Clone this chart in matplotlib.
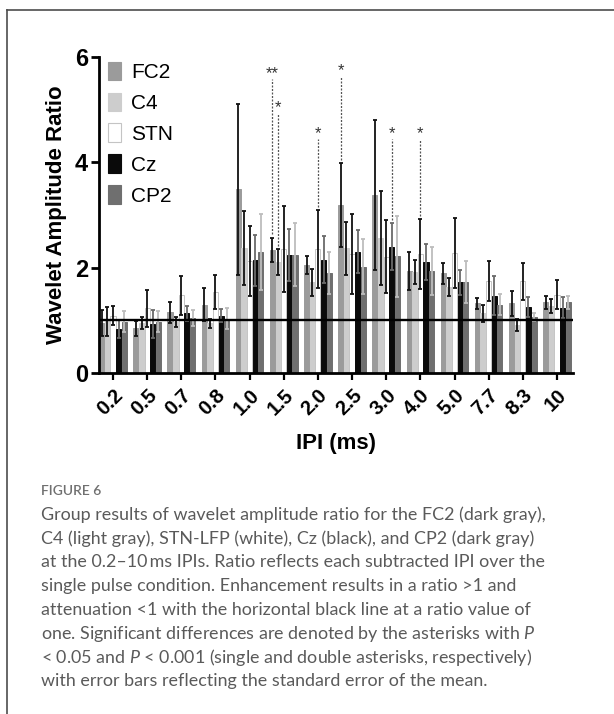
import numpy as np
import matplotlib
matplotlib.use("Agg")
import matplotlib.pyplot as plt
from matplotlib.patches import Patch
from matplotlib.lines import Line2D

plt.rcParams['font.family'] = ['Liberation Sans', 'DejaVu Sans']
plt.rcParams['mathtext.fontset'] = 'custom'
plt.rcParams['mathtext.rm'] = 'Lato'
plt.rcParams['mathtext.it'] = 'Lato:italic'

# IPI conditions (ms)
ipi_labels = ['0.2', '0.5', '0.7', '0.8', '1.0', '1.5', '2.0', '2.5',
              '3.0', '4.0', '5.0', '7.7', '8.3', '10']

series_names = ['FC2', 'C4', 'STN', 'Cz', 'CP2']

# mean wavelet amplitude ratio and SEM per channel
fc2_mean = [0.95, 0.85, 1.15, 1.30, 3.49, 2.34, 2.05, 3.19, 3.38, 1.94, 1.89, 1.32, 1.32, 1.34]
fc2_sem = [0.24, 0.14, 0.20, 0.31, 1.62, 0.23, 0.17, 0.80, 1.42, 0.36, 0.20, 0.11, 0.23, 0.12]
c4_mean = [0.98, 0.95, 0.97, 0.94, 2.38, 2.11, 1.72, 2.37, 2.57, 1.92, 1.64, 1.13, 0.91, 1.27]
c4_sem = [0.28, 0.12, 0.10, 0.09, 0.70, 0.25, 0.25, 0.50, 0.89, 0.23, 0.17, 0.16, 0.12, 0.13]
stn_mean = [1.09, 1.23, 1.48, 1.54, 2.13, 2.35, 2.36, 2.26, 2.21, 2.26, 2.28, 1.75, 1.74, 1.49]
stn_sem = [0.18, 0.35, 0.37, 0.33, 0.67, 0.82, 0.74, 0.76, 0.69, 0.66, 0.67, 0.38, 0.35, 0.27]
cz_mean = [0.83, 0.93, 1.13, 1.09, 2.14, 2.24, 2.15, 2.30, 2.40, 2.11, 1.72, 1.47, 1.26, 1.24]
cz_sem = [0.17, 0.27, 0.15, 0.13, 0.48, 0.50, 0.45, 0.41, 0.45, 0.34, 0.24, 0.37, 0.19, 0.20]
cp2_mean = [0.97, 0.97, 1.04, 1.03, 2.30, 2.25, 1.90, 2.02, 2.22, 1.94, 1.72, 1.30, 1.06, 1.34]
cp2_sem = [0.20, 0.20, 0.15, 0.20, 0.72, 0.60, 0.40, 0.52, 0.77, 0.46, 0.40, 0.20, 0.08, 0.13]

means = [fc2_mean, c4_mean, stn_mean, cz_mean, cp2_mean]
sems = [fc2_sem, c4_sem, stn_sem, cz_sem, cp2_sem]

# significance marks: IPI, channel, mark, height of the mark
sig_ipi = ['1.5', '1.5', '2.0', '2.5', '3.0', '4.0']
sig_series = ['FC2', 'C4', 'STN', 'FC2', 'Cz', 'STN']
sig_marks = ['**', '*', '*', '*', '*', '*']
sig_height = [5.70, 5.05, 4.56, 5.74, 4.56, 4.56]

face_colors = ['#9b9b9b', '#cdcdcd', '#ffffff', '#0a0a0a', '#6f6f6f']
edge_colors = ['#9b9b9b', '#cdcdcd', '#c4c4c4', '#0a0a0a', '#6f6f6f']
err_colors = ['#111111', '#111111', '#111111', '#6a6a6a', '#bdbdbd']

step = 0.165
width = 0.15

fig = plt.figure(figsize=(6.14, 7.14), dpi=100)
ax = fig.add_axes([99/614, 1-373/714, 474/614, 316/714])

x = np.arange(len(ipi_labels))
for k, name in enumerate(series_names):
    xs = x + (k-2)*step
    ax.bar(xs, means[k], width=width, color=face_colors[k],
           edgecolor=edge_colors[k], linewidth=0.7, zorder=2, label=name)
    ax.errorbar(xs, means[k], yerr=sems[k], fmt='none', ecolor=err_colors[k],
                elinewidth=1.3, capsize=1.6, capthick=1.3, zorder=3)

ax.axhline(1, color='black', lw=1.7, zorder=4)

# significance lines and asterisks
for ipi, ser, mark, h in zip(sig_ipi, sig_series, sig_marks, sig_height):
    i = ipi_labels.index(ipi)
    k = series_names.index(ser)
    xb = i + (k-2)*step
    top = means[k][i] + sems[k][i]
    ax.plot([xb, xb], [top+0.06, h-0.12], ls=(0, (1.6, 1.2)), color='#555555',
            lw=0.9, zorder=3)
    ax.text(xb, h-0.15, mark, ha='center', va='bottom', fontsize=12, color='#333333')

ax.set_xlim(-0.41, 13.47)
ax.set_ylim(0, 6)
ax.set_yticks([0, 2, 4, 6])
ax.set_xticks(x)
ax.set_xticklabels(ipi_labels, rotation=45, ha='right', rotation_mode='anchor',
                   fontsize=14.5, fontweight='bold')
for lab in ax.get_yticklabels():
    lab.set_fontsize(17)
    lab.set_fontweight('bold')
ax.tick_params(axis='y', length=6, width=2, pad=2)
ax.tick_params(axis='x', length=5, width=1.6, pad=4)
for s in ['top', 'right']:
    ax.spines[s].set_visible(False)
for s in ['left', 'bottom']:
    ax.spines[s].set_linewidth(2)

ax.set_ylabel('Wavelet Amplitude Ratio', fontsize=16, fontweight='bold')
ax.yaxis.set_label_coords(-0.068, 0.5)
ax.set_xlabel('IPI (ms)', fontsize=16, fontweight='bold')
ax.xaxis.set_label_coords(0.5, -0.19)

handles = [Patch(facecolor=face_colors[k], edgecolor=edge_colors[k], linewidth=0.8)
           for k in range(len(series_names))]
ax.legend(handles, series_names, loc='upper left', bbox_to_anchor=(0.02, 0.985),
          frameon=False, fontsize=15, handlelength=0.62, handleheight=1.0,
          labelspacing=0.5, handletextpad=0.45, borderaxespad=0, borderpad=0)

# frame around the figure panel
fig.add_artist(Line2D([7/614, 1], [1-10/714, 1-10/714], color='#4d4d4d', lw=1.2))
fig.add_artist(Line2D([7/614, 7/614], [0, 1-10/714], color='#4d4d4d', lw=1.2))

fig.text(41/614, 1-491/714, 'FIGURE 6', fontsize=10, fontweight='semibold',
         color='#707070', family=['Lato', 'DejaVu Sans'], va='center')

caption = [
    'Group results of wavelet amplitude ratio for the FC2 (dark gray),',
    'C4 (light gray), STN-LFP (white), Cz (black), and CP2 (dark gray)',
    'at the 0.2\u201310\u2009ms IPIs. Ratio reflects each subtracted IPI over the',
    'single pulse condition. Enhancement results in a ratio >1 and',
    'attenuation <1 with the horizontal black line at a ratio value of',
    'one. Significant differences are denoted by the asterisks with $P$',
    '< 0.05 and $P$ < 0.001 (single and double asterisks, respectively)',
    'with error bars reflecting the standard error of the mean.',
]
for j, line in enumerate(caption):
    fig.text(41/614, 1-(515+j*23.7)/714, line, fontsize=12.9, color='#5a5a5a',
             family=['Lato', 'DejaVu Sans'], va='center')

fig.savefig('out.png', dpi=100, facecolor='white')
